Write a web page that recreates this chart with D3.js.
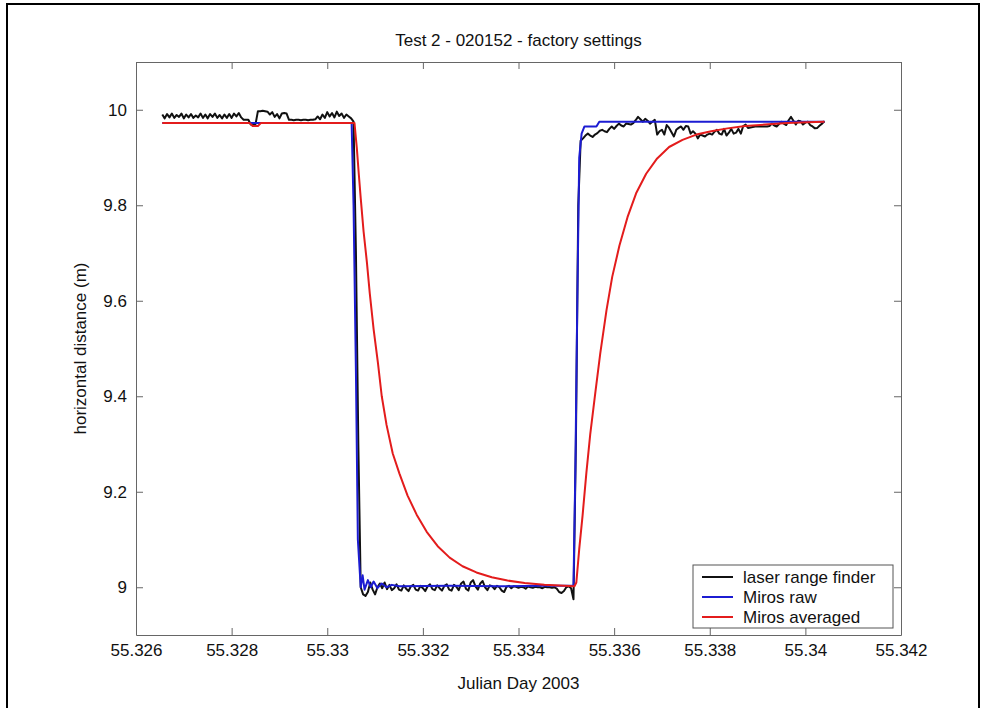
<!DOCTYPE html>
<html>
<head>
<meta charset="utf-8">
<script src="https://cdn.jsdelivr.net/npm/d3@7"></script>
<style>
  html, body { margin: 0; padding: 0; background: #fff; }
  svg { display: block; font-family: "Liberation Sans", Arial, sans-serif; }
</style>
</head>
<body>
<svg id="chart" width="984" height="708"></svg>
<script>
// Test 2 - laser range finder vs Miros radar, factory settings

const xTickValues = [55.326, 55.328, 55.33, 55.332, 55.334, 55.336, 55.338, 55.34, 55.342];
const xTickLabels = ['55.326', '55.328', '55.33', '55.332', '55.334', '55.336', '55.338', '55.34', '55.342'];
const yTickValues = [9, 9.2, 9.4, 9.6, 9.8, 10];
const yTickLabels = ['9', '9.2', '9.4', '9.6', '9.8', '10'];

const seriesNames = ['laser range finder', 'Miros raw', 'Miros averaged'];

// laser range finder, regular sampling
const laserStart = 55.32655;
const laserStep = 0.00005;
const laserValues = [
  9.990, 9.982, 9.991, 9.984, 9.992, 9.983, 9.989, 9.985, 9.992, 9.982,
  9.990, 9.984, 9.991, 9.983, 9.988, 9.984, 9.992, 9.983, 9.990, 9.982,
  9.991, 9.985, 9.992, 9.983, 9.989, 9.982, 9.990, 9.983, 9.991, 9.983,
  9.992, 9.986, 9.993, 9.984, 9.979, 9.979, 9.979, 9.969, 9.968, 9.970,
  9.997, 9.997, 9.998, 9.997, 9.996, 9.990, 9.995, 9.985, 9.991, 9.982,
  9.992, 9.993, 9.992, 9.979, 9.979, 9.978, 9.979, 9.979, 9.978, 9.979,
  9.979, 9.978, 9.979, 9.979, 9.980, 9.986, 9.980, 9.990, 9.983, 9.995,
  9.986, 9.993, 9.984, 9.996, 9.987, 9.992, 9.983, 9.990, 9.986, 9.982,
  9.975, 9.70, 9.30, 9.00, 8.985, 8.982, 8.990, 9.010, 8.995, 8.985,
  9.000, 9.008, 8.998, 9.010, 8.996, 9.005, 8.994, 8.998, 9.006, 8.995,
  8.993, 9.004, 8.997, 8.992, 9.002, 9.005, 8.995, 8.993, 9.003, 8.998,
  8.992, 9.002, 9.006, 8.996, 8.994, 9.004, 8.998, 8.993, 9.003, 9.006,
  8.995, 8.993, 9.005, 9.001, 8.994, 9.008, 9.012, 8.997, 8.993, 9.010,
  9.015, 9.002, 8.995, 9.008, 9.013, 9.000, 8.994, 9.004, 9.002, 8.996,
  9.003, 9.000, 8.993, 8.990, 9.001, 9.003, 8.998, 9.002, 9.001, 8.999,
  9.001, 9.000, 8.997, 9.002, 9.000, 8.999, 9.001, 9.000, 9.000, 8.998,
  9.001, 9.000, 9.000, 8.999, 9.000, 8.997, 8.990, 8.988, 8.992, 9.000,
  9.002, 8.998, 8.975, 9.30, 9.80, 9.935, 9.940, 9.946, 9.950, 9.946,
  9.943, 9.948, 9.951, 9.956, 9.958, 9.955, 9.953, 9.960, 9.965, 9.960,
  9.966, 9.971, 9.967, 9.965, 9.971, 9.970, 9.969, 9.972, 9.978, 9.985,
  9.980, 9.975, 9.981, 9.977, 9.971, 9.975, 9.979, 9.948, 9.955, 9.958,
  9.948, 9.968, 9.962, 9.953, 9.944, 9.958, 9.962, 9.965, 9.958, 9.966,
  9.965, 9.950, 9.955, 9.950, 9.940, 9.948, 9.946, 9.944, 9.948, 9.950,
  9.948, 9.954, 9.958, 9.950, 9.948, 9.960, 9.946, 9.952, 9.960, 9.950,
  9.952, 9.960, 9.950, 9.966, 9.969, 9.962, 9.963, 9.964, 9.965, 9.965,
  9.965, 9.965, 9.965, 9.965, 9.966, 9.971, 9.967, 9.965, 9.970, 9.975,
  9.971, 9.968, 9.978, 9.985, 9.977, 9.969, 9.977, 9.976, 9.969, 9.973,
  9.975, 9.968, 9.965, 9.961, 9.962, 9.967, 9.971, 9.976
];

// Miros raw
const rawTimes = [
  55.32655, 55.33051, 55.33055, 55.33060, 55.33064, 55.33070, 55.33074, 55.33078,
  55.33085, 55.33091, 55.33097, 55.33105, 55.33114, 55.33124, 55.33135, 55.33151,
  55.33256, 55.3336, 55.33444, 55.33515, 55.33519, 55.33523, 55.33527, 55.33532,
  55.33538, 55.33563, 55.33569, 55.3404
];
const rawValues = [
  9.972, 9.972, 9.80, 9.45, 9.10, 9.000, 9.025, 8.995,
  9.015, 9.000, 9.012, 8.998, 9.008, 9.000, 9.005, 9.002,
  9.003, 9.002, 9.003, 9.003, 9.25, 9.60, 9.90, 9.950,
  9.965, 9.965, 9.975, 9.975
];

// Miros averaged
const avgTimes = [
  55.32655, 55.32838, 55.32844, 55.32855, 55.32861, 55.33057,
  55.33062, 55.33066, 55.33070, 55.33076, 55.33083, 55.33089, 55.33097, 55.33106,
  55.33114, 55.33124, 55.33137, 55.33151, 55.33168, 55.33187, 55.33208, 55.33231,
  55.33256, 55.33283, 55.33312, 55.33344, 55.33377, 55.33413, 55.33454, 55.33517,
  55.33521, 55.33527, 55.33534, 55.33542, 55.33550, 55.33561, 55.33571, 55.33584,
  55.33596, 55.33611, 55.33628, 55.33646, 55.33667, 55.33690, 55.33715, 55.33743,
  55.33772, 55.33803, 55.33837, 55.33874, 55.33916, 55.33962, 55.34004, 55.3404
];
const avgValues = [
  9.972, 9.972, 9.966, 9.966, 9.972, 9.972,
  9.918, 9.865, 9.815, 9.745, 9.680, 9.615, 9.540, 9.470,
  9.400, 9.340, 9.280, 9.238, 9.192, 9.152, 9.116, 9.086,
  9.062, 9.044, 9.031, 9.021, 9.014, 9.009, 9.005, 9.002,
  9.010, 9.080, 9.150, 9.240, 9.320, 9.410, 9.490, 9.580,
  9.650, 9.715, 9.775, 9.825, 9.866, 9.898, 9.922, 9.937,
  9.948, 9.955, 9.961, 9.966, 9.969, 9.972, 9.974, 9.975
];

const svg = d3.select('#chart');
const W = 984, H = 708;
const margin = { top: 62, right: 83, bottom: 73, left: 136 };
const plotLeft = margin.left, plotRight = W - margin.right;
const plotTop = margin.top, plotBottom = H - margin.bottom;
const axisColor = '#666';
const textColor = '#111';

// figure frame
svg.append('rect')
  .attr('x', 7).attr('y', 4)
  .attr('width', 972).attr('height', 740)
  .attr('fill', 'none').attr('stroke', '#000').attr('stroke-width', 2);

const x = d3.scaleLinear().domain([55.326, 55.342]).range([plotLeft, plotRight]);
const y = d3.scaleLinear().domain([8.9, 10.1]).range([plotBottom, plotTop]);

svg.append('clipPath').attr('id', 'plot-clip')
  .append('rect').attr('x', plotLeft).attr('y', plotTop)
  .attr('width', plotRight - plotLeft).attr('height', plotBottom - plotTop);

// series
const laser = laserValues.map((v, i) => ({ t: laserStart + i * laserStep, v }));
const raw = rawTimes.map((t, i) => ({ t, v: rawValues[i] }));
const avg = avgTimes.map((t, i) => ({ t, v: avgValues[i] }));

const line = d3.line().x(d => x(d.t)).y(d => y(d.v));
const colors = ['#111111', '#1c1cd2', '#e31c1c'];

const plot = svg.append('g').attr('clip-path', 'url(#plot-clip)');
[laser, raw, avg].forEach((s, i) => {
  plot.append('path')
    .datum(s)
    .attr('d', line)
    .attr('fill', 'none')
    .attr('stroke', colors[i])
    .attr('stroke-width', 2)
    .attr('stroke-linejoin', 'round');
});

// axes, MATLAB style: inward ticks on all four sides
function styleAxis(g) {
  g.attr('font-size', null).attr('font-family', null);
  g.selectAll('path, line').attr('stroke', axisColor);
  g.selectAll('text').attr('fill', textColor).style('font-size', '17px');
}

svg.append('g')
  .attr('transform', `translate(0,${plotBottom})`)
  .call(d3.axisBottom(x).tickValues(xTickValues).tickFormat((d, i) => xTickLabels[i])
    .tickSizeInner(-7).tickSizeOuter(0).tickPadding(9))
  .call(styleAxis);

svg.append('g')
  .attr('transform', `translate(0,${plotTop})`)
  .call(d3.axisTop(x).tickValues(xTickValues).tickFormat('')
    .tickSizeInner(-7).tickSizeOuter(0))
  .call(styleAxis);

svg.append('g')
  .attr('transform', `translate(${plotLeft},0)`)
  .call(d3.axisLeft(y).tickValues(yTickValues).tickFormat((d, i) => yTickLabels[i])
    .tickSizeInner(-7).tickSizeOuter(0).tickPadding(9))
  .call(styleAxis);

svg.append('g')
  .attr('transform', `translate(${plotRight},0)`)
  .call(d3.axisRight(y).tickValues(yTickValues).tickFormat('')
    .tickSizeInner(-7).tickSizeOuter(0))
  .call(styleAxis);

// titles
const cx = (plotLeft + plotRight) / 2;
svg.append('text')
  .attr('x', cx).attr('y', 46)
  .attr('text-anchor', 'middle').attr('fill', textColor).style('font-size', '17px')
  .text('Test 2 - 020152 - factory settings');

svg.append('text')
  .attr('x', cx).attr('y', 689)
  .attr('text-anchor', 'middle').attr('fill', textColor).style('font-size', '17px')
  .text('Julian Day 2003');

svg.append('text')
  .attr('transform', `translate(80,${(plotTop + plotBottom) / 2}) rotate(-90)`)
  .attr('dy', '0.35em')
  .attr('text-anchor', 'middle').attr('fill', textColor).style('font-size', '17px')
  .text('horizontal distance (m)');

// legend
const legend = svg.append('g').attr('transform', 'translate(693,565)');
legend.append('rect')
  .attr('width', 200).attr('height', 63)
  .attr('fill', '#fff').attr('stroke', '#555');
seriesNames.forEach((name, i) => {
  const ry = 12 + i * 20;
  legend.append('line')
    .attr('x1', 9).attr('x2', 40).attr('y1', ry).attr('y2', ry)
    .attr('stroke', colors[i]).attr('stroke-width', 2);
  legend.append('text')
    .attr('x', 50).attr('y', ry).attr('dy', '0.35em')
    .attr('fill', textColor).style('font-size', '17px')
    .text(name);
});
</script>
</body>
</html>
